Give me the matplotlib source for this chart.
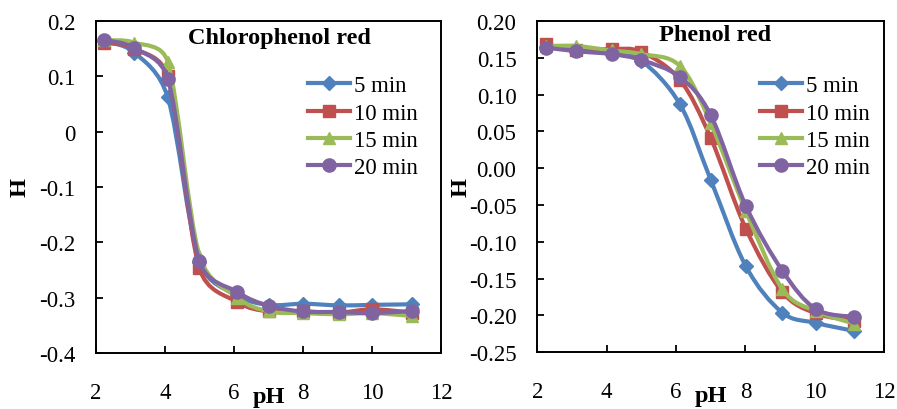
import matplotlib
matplotlib.use('Agg')
import matplotlib.pyplot as plt
import numpy as np
from matplotlib.path import Path
from matplotlib.patches import PathPatch
from matplotlib.lines import Line2D
from matplotlib.ticker import FuncFormatter

plt.rcParams['font.family'] = ['Liberation Serif', 'DejaVu Serif']
plt.rcParams['axes.unicode_minus'] = False

# measured pH values and H at each reaction time
ph_cpr = [2.24, 3.11, 4.08, 5.0, 6.1, 7.02, 8.01, 9.05, 10.01, 11.15]
cpr_5 = [0.163, 0.143, 0.062, -0.235, -0.296, -0.313, -0.311, -0.314, -0.313, -0.312]
cpr_10 = [0.161, 0.150, 0.100, -0.247, -0.308, -0.325, -0.325, -0.327, -0.321, -0.327]
cpr_15 = [0.165, 0.161, 0.126, -0.224, -0.300, -0.325, -0.328, -0.330, -0.328, -0.333]
cpr_20 = [0.166, 0.151, 0.096, -0.234, -0.290, -0.315, -0.325, -0.326, -0.328, -0.324]

ph_pr = [2.24, 3.12, 4.14, 5.0, 6.11, 7.0, 8.01, 9.06, 10.02, 11.13]
pr_5 = [0.165, 0.160, 0.156, 0.146, 0.087, -0.016, -0.133, -0.196, -0.210, -0.221]
pr_10 = [0.169, 0.160, 0.162, 0.158, 0.120, 0.041, -0.082, -0.168, -0.197, -0.207]
pr_15 = [0.166, 0.166, 0.160, 0.155, 0.139, 0.061, -0.058, -0.164, -0.194, -0.211]
pr_20 = [0.164, 0.159, 0.155, 0.147, 0.124, 0.072, -0.051, -0.139, -0.191, -0.202]

labels = ['5 min', '10 min', '15 min', '20 min']
colors = ['#4F81BD', '#C0504D', '#9BBB59', '#8064A2']
markers = ['D', 's', '^', 'o']
msizes = [7.5, 8, 8.5, 9.5]


def smooth_path(ax, x, y):
    # spreadsheet-style smoothing: cubic bezier through each point, tension 1/6,
    # control arm never longer than half the segment (measured on screen)
    bbox = ax.get_window_extent()
    x0, x1 = ax.get_xlim()
    y0, y1 = ax.get_ylim()
    scale = np.array([bbox.width / (x1 - x0), bbox.height / (y1 - y0)])
    pts = np.column_stack([x, y])
    n = len(pts)
    verts = [pts[0]]
    codes = [Path.MOVETO]
    for i in range(n - 1):
        p0 = pts[max(i - 1, 0)]
        p1 = pts[i]
        p2 = pts[i + 1]
        p3 = pts[min(i + 2, n - 1)]
        half = np.hypot(*((p2 - p1) * scale)) / 2
        v1 = (p2 - p0) / 6.0
        v2 = (p3 - p1) / 6.0
        l1 = np.hypot(*(v1 * scale))
        l2 = np.hypot(*(v2 * scale))
        if l1 > half:
            v1 = v1 * half / l1
        if l2 > half:
            v2 = v2 * half / l2
        verts += [p1 + v1, p2 - v2, p2]
        codes += [Path.CURVE4] * 3
    return Path(verts, codes)


def fmt_one(v, pos):
    s = '%.1f' % v
    return '0' if s in ('0.0', '-0.0') else s


def fmt_two(v, pos):
    s = '%.2f' % v
    return '0.00' if s == '-0.00' else s


fig = plt.figure(figsize=(8.97, 4.10), dpi=100)
ax1 = fig.add_axes([0.107, 0.1366, 0.3846, 0.8098])
ax2 = fig.add_axes([0.599, 0.1383, 0.3868, 0.808])

panels = [
    (ax1, ph_cpr, [cpr_5, cpr_10, cpr_15, cpr_20], 'Chlorophenol red', (0.533, 0.949),
     (-0.4, 0.2), np.arange(-0.4, 0.21, 0.1), fmt_one, 0.614),
    (ax2, ph_pr, [pr_5, pr_10, pr_15, pr_20], 'Phenol red', (0.513, 0.958),
     (-0.25, 0.20), np.arange(-0.25, 0.201, 0.05), fmt_two, 0.641),
]

for ax, xs, series, title, tpos, ylim, yticks, fmt, legx in panels:
    ax.set_xlim(2, 12)
    ax.set_ylim(*ylim)
    for k, ys in enumerate(series):
        patch = PathPatch(smooth_path(ax, xs, ys), facecolor='none', edgecolor=colors[k],
                          lw=3, capstyle='round', joinstyle='round', zorder=2 + k)
        ax.add_patch(patch)
        ax.plot(xs, ys, linestyle='none', marker=markers[k], ms=msizes[k],
                color=colors[k], zorder=2 + k)
    ax.set_xticks([2, 4, 6, 8, 10, 12])
    ax.set_yticks(yticks)
    ax.yaxis.set_major_formatter(FuncFormatter(fmt))
    ax.tick_params(direction='in', length=5, width=1.3, labelsize=16.5, colors='black')
    ax.tick_params(axis='x', pad=21)
    ax.tick_params(axis='y', pad=15)
    for s in ax.spines.values():
        s.set_linewidth(1.4)
    ax.set_xlabel('pH', fontsize=17.5, fontweight='bold')
    ax.xaxis.set_label_coords(0.5, -0.1)
    ax.xaxis.label.set_va('top')
    ax.set_ylabel('H', fontsize=17.5, fontweight='bold')
    ax.yaxis.set_label_coords(-0.19, 0.5)
    ax.text(tpos[0], tpos[1], title, transform=ax.transAxes, ha='center', va='center',
            fontsize=17.5, fontweight='bold')
    handles = [Line2D([], [], color=colors[k], lw=3, marker=markers[k], ms=msizes[k])
               for k in range(4)]
    ax.legend(handles, labels, loc='upper left', bbox_to_anchor=(legx, 0.836),
              frameon=False, fontsize=16.5, handlelength=1.85, handletextpad=0.15,
              labelspacing=0.27, borderpad=0, borderaxespad=0)

fig.savefig('out.png', dpi=100)
